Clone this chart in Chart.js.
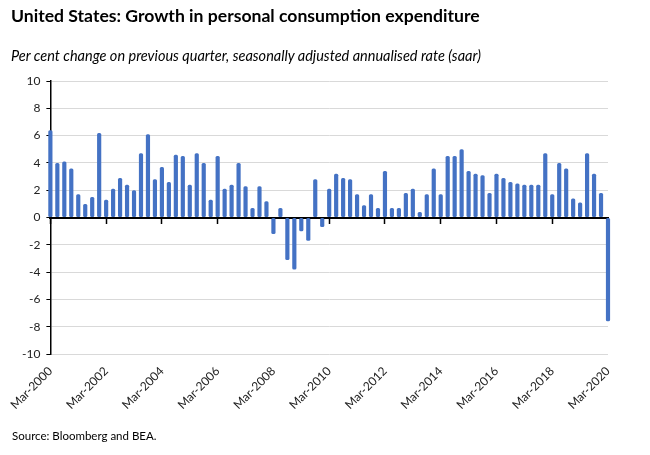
<!DOCTYPE html>
<html>
<head>
<meta charset="utf-8">
<script src="https://cdn.jsdelivr.net/npm/chart.js@4.4.1/dist/chart.umd.min.js"></script>
<style>
  html, body { margin: 0; padding: 0; background: #fff; }
  #wrap { position: relative; width: 650px; height: 455px; }
  #title { position: absolute; left: 11px; top: 5px; font: bold 17.6px Lato, sans-serif; color: #000; }
  #subtitle { position: absolute; left: 11px; top: 47px; font: italic 14.5px Lato, sans-serif; color: #000; }
  #source { position: absolute; left: 12px; top: 429px; font: 11.5px Lato, sans-serif; color: #000; }
  canvas { position: absolute; left: 0; top: 0; }
</style>
</head>
<body>
<div id="wrap">
  <canvas id="chart" width="650" height="455"></canvas>
  <div id="title">United States: Growth in personal consumption expenditure</div>
  <div id="subtitle">Per cent change on previous quarter, seasonally adjusted annualised rate (saar)</div>
  <div id="source">Source: Bloomberg and BEA.</div>
</div>
<script>
// quarterly categories, Mar-2000 .. Mar-2020
const quarterMonths = ['Mar', 'Jun', 'Sep', 'Dec'];
const firstYear = 2000;
const lastYear = 2020;

// PCE growth, % q/q saar
const pceGrowth = [
  6.4, 4.0, 4.1, 3.6,    // 2000
  1.7, 1.0, 1.5, 6.2,    // 2001
  1.3, 2.1, 2.9, 2.4,    // 2002
  2.0, 4.7, 6.1, 2.8,    // 2003
  3.7, 2.6, 4.6, 4.5,    // 2004
  2.4, 4.7, 4.0, 1.3,    // 2005
  4.5, 2.1, 2.4, 4.0,    // 2006
  2.3, 0.7, 2.3, 1.2,    // 2007
  -1.2, 0.7, -3.1, -3.8, // 2008
  -1.0, -1.7, 2.8, -0.7, // 2009
  2.1, 3.2, 2.9, 2.8,    // 2010
  1.7, 0.9, 1.7, 0.7,    // 2011
  3.4, 0.7, 0.7, 1.8,    // 2012
  2.1, 0.4, 1.7, 3.6,    // 2013
  1.7, 4.5, 4.5, 5.0,    // 2014
  3.4, 3.2, 3.1, 1.8,    // 2015
  3.2, 2.9, 2.6, 2.5,    // 2016
  2.4, 2.4, 2.4, 4.7,    // 2017
  1.7, 4.0, 3.6, 1.4,    // 2018
  1.1, 4.7, 3.2, 1.8,    // 2019
  -7.6                   // 2020
];

const labelEvery = 8; // a label every two years

const quarters = [];
for (let y = firstYear; y <= lastYear; y++) {
  quarterMonths.forEach(m => quarters.push(m + '-' + y));
}
quarters.length = pceGrowth.length;

const ctx = document.getElementById('chart').getContext('2d');
new Chart(ctx, {
  type: 'bar',
  data: {
    labels: quarters,
    datasets: [{
      data: pceGrowth,
      backgroundColor: '#4472C4',
      barPercentage: 0.6,
      categoryPercentage: 1,
      borderRadius: 1.5,
      borderSkipped: false,
      clip: false
    }]
  },
  options: {
    responsive: false,
    animation: false,
    layout: { padding: { left: 16, right: 42, top: 81, bottom: 41 } },
    plugins: {
      legend: { display: false },
      tooltip: { enabled: false }
    },
    scales: {
      x: {
        type: 'category',
        offset: false,
        grid: { display: false, offset: false },
        border: { display: false },
        ticks: {
          autoSkip: false,
          maxRotation: 45,
          minRotation: 45,
          padding: 2,
          color: '#222',
          font: { family: 'Lato', size: 12 },
          callback: function(value, index) {
            return index % labelEvery === 0 ? this.getLabelForValue(value) : '';
          }
        }
      },
      xz: {
        type: 'category',
        axis: 'x',
        position: { y: 0 },
        offset: false,
        ticks: { display: false, autoSkip: false },
        grid: {
          offset: false,
          drawOnChartArea: false,
          drawTicks: true,
          tickLength: 5,
          tickWidth: 1.5,
          tickColor: c => c.index % labelEvery === 0 ? '#000' : 'rgba(0,0,0,0)'
        },
        border: { display: true, color: '#000', width: 2 }
      },
      y: {
        min: -10,
        max: 10,
        ticks: {
          stepSize: 2,
          padding: 6,
          color: '#222',
          font: { family: 'Lato', size: 12 }
        },
        grid: {
          color: c => c.tick && c.tick.value === 0 ? 'rgba(0,0,0,0)' : '#d9d9d9',
          lineWidth: 1,
          tickLength: 4,
          tickColor: '#000'
        },
        border: { display: true, color: '#000', width: 1.5 }
      }
    }
  }
});
</script>
</body>
</html>
